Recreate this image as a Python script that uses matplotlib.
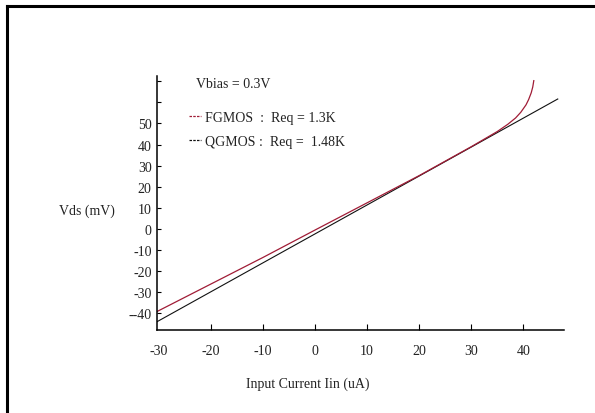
import matplotlib.pyplot as plt
from matplotlib.lines import Line2D

plt.rcParams['font.family'] = ['Liberation Serif', 'DejaVu Serif']

# FGMOS curve
fg_x = [-30.4, -20, -10, 0, 10, 20, 30, 35, 37, 38.5, 39.5, 40.5, 41.0, 41.5, 41.8, 42.0]
fg_y = [-39.2, -26.1, -13.5, -0.5, 12.4, 25.3, 39.0, 46.2, 49.6, 52.6, 55.3, 58.8, 61.3, 64.5, 67.3, 70.3]

# QGMOS straight line
qg_x = [-30.3, 46.6]
qg_y = [-43.9, 61.6]

xticks = [-30, -20, -10, 0, 10, 20, 30, 40]
xlabels = ['-30', '-20', '-10', '0', '10', '20', '30', '40']
yticks = [-40, -30, -20, -10, 0, 10, 20, 30, 40, 50, 60, 70]
ylabels = ['--40', '-30', '-20', '-10', '0', '10', '20', '30', '40', '50', '', '']

W, H = 595, 414
fig = plt.figure(figsize=(W / 100, H / 100), dpi=100)
ax = fig.add_axes([157.3 / W, 1 - 331 / H, (564 - 157.3) / W, (331 - 77) / H])

ax.plot(qg_x, qg_y, color='#111111', lw=0.8)
ax.plot(fg_x, fg_y, color='#a01c36', lw=0.9)

ax.set_xlim(-30.3, 47.8)
ax.set_ylim(-47.9, 72.5)

for s in ['top', 'right']:
    ax.spines[s].set_visible(False)
for s in ['left', 'bottom']:
    ax.spines[s].set_linewidth(1.1)

ax.set_xticks(xticks)
ax.set_xticklabels(xlabels)
ax.tick_params(axis='x', direction='in', length=4, width=0.8, pad=10,
               labelsize=10, labelcolor='#222222')
# the -30 label has no tick mark of its own
ax.xaxis.get_major_ticks()[0].tick1line.set_visible(False)

ax.set_yticks(yticks)
ax.set_yticklabels(ylabels)
ax.tick_params(axis='y', direction='in', length=3, width=0.8, pad=4,
               labelsize=10, labelcolor='#222222')

ax.text(0.094, 0.972, 'Vbias = 0.3V', transform=ax.transAxes, fontsize=10,
        color='#222222', va='center', ha='left')

handles = [Line2D([], [], color='#a01c36', lw=0.9, ls=(0, (2, 1))),
           Line2D([], [], color='#111111', lw=0.9, ls=(0, (2, 1)))]
ax.legend(handles, ['FGMOS  :  Req = 1.3K', 'QGMOS :  Req =  1.48K'],
          loc='upper left', bbox_to_anchor=(0.077, 0.862), frameon=False,
          borderpad=0, borderaxespad=0, handlelength=0.9, handletextpad=0.3,
          labelspacing=0.8, fontsize=10, labelcolor='#222222')

fig.text(59 / W, 1 - 211 / H, 'Vds (mV)', fontsize=10, color='#222222',
         ha='left', va='center')
fig.text(308 / W, 1 - 384 / H, 'Input Current Iin (uA)', fontsize=10,
         color='#222222', ha='center', va='center')

# outer frame: left and top edges only
fig.add_artist(Line2D([7 / W, 7 / W], [0, 1 - 7 / H], color='black', lw=2.2,
                      transform=fig.transFigure))
fig.add_artist(Line2D([7 / W, 1], [1 - 7 / H, 1 - 7 / H], color='black', lw=2.2,
                      transform=fig.transFigure))

fig.savefig('out.png', dpi=100)
